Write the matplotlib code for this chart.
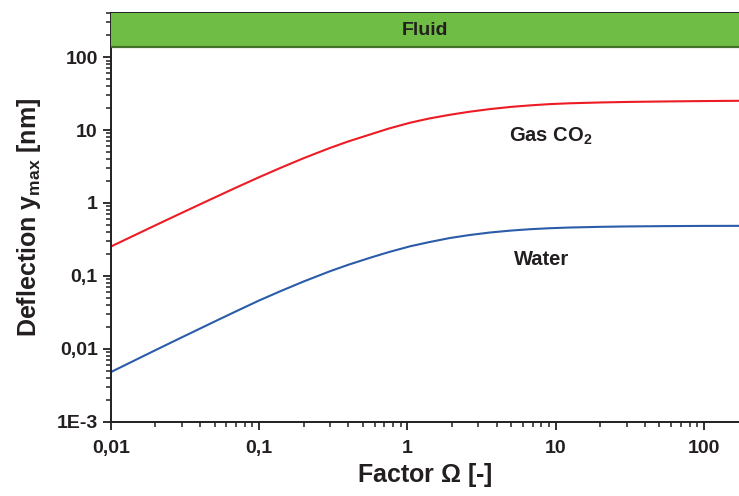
import matplotlib
matplotlib.use("Agg")
import matplotlib.pyplot as plt
from matplotlib.patches import Rectangle
from matplotlib.ticker import LogLocator, NullFormatter

# values (log-log)
omega = [0.01, 0.02, 0.03, 0.05, 0.07, 0.1, 0.14, 0.2, 0.3, 0.4, 0.56, 0.75, 1.04,
         1.4, 1.93, 2.6, 3.6, 5, 6.7, 9.1, 12.4, 19.8, 30, 56, 100, 172]
gas_co2 = [0.252, 0.494, 0.729, 1.185, 1.626, 2.257, 3.04, 4.12, 5.68, 6.99, 8.70, 10.5, 12.6,
           14.4, 16.2, 17.8, 19.4, 20.8, 21.8, 22.7, 23.3, 23.9, 24.3, 24.7, 25.0, 25.2]
water = [0.00478, 0.00956, 0.01428, 0.02356, 0.03266, 0.0459, 0.0619, 0.0838, 0.1155, 0.142, 0.177, 0.212, 0.254,
         0.290, 0.330, 0.362, 0.393, 0.418, 0.436, 0.450, 0.460, 0.470, 0.476, 0.481, 0.484, 0.485]

xticks = [0.01, 0.1, 1, 10, 100]
xticklabels = ["0,01", "0,1", "1", "10", "100"]
yticks = [0.001, 0.01, 0.1, 1, 10, 100]
yticklabels = ["1E-3", "0,01", "0,1", "1", "10", "100"]

plt.rcParams['font.family'] = ['Liberation Sans', 'DejaVu Sans']
plt.rcParams['font.weight'] = 'bold'
plt.rcParams['mathtext.fontset'] = 'custom'
plt.rcParams['mathtext.rm'] = 'Liberation Sans:bold'
plt.rcParams['mathtext.bf'] = 'Liberation Sans:bold'
plt.rcParams['mathtext.it'] = 'Liberation Sans:bold'

dark = '#231f20'

fig = plt.figure(figsize=(7.39, 4.96), dpi=100)
ax = fig.add_axes([0.150, 0.150, 0.850, 0.824])

ax.plot(omega, gas_co2, color='#ed1c24', lw=1.5)
ax.plot(omega, water, color='#2b5ca9', lw=1.5)

ax.set_xscale('log')
ax.set_yscale('log')
ax.set_xlim(0.01, 172)
ax.set_ylim(0.001, 405)

ax.set_xticks(xticks)
ax.set_xticklabels(xticklabels)
ax.set_yticks(yticks)
ax.set_yticklabels(yticklabels)
ax.xaxis.set_minor_locator(LogLocator(base=10, subs=range(2, 10), numticks=20))
ax.yaxis.set_minor_locator(LogLocator(base=10, subs=range(2, 10), numticks=20))
ax.xaxis.set_minor_formatter(NullFormatter())
ax.yaxis.set_minor_formatter(NullFormatter())

ax.tick_params(which='major', direction='out', length=6, width=1.3, color=dark,
               labelsize=14, labelcolor=dark)
ax.tick_params(which='minor', direction='out', length=3.5, width=1.1, color=dark)
ax.tick_params(axis='x', which='both', top=False)
ax.tick_params(axis='y', which='both', right=False)
ax.tick_params(axis='x', pad=7)

ax.spines['right'].set_visible(False)
for s in ['left', 'bottom', 'top']:
    ax.spines[s].set_color(dark)
    ax.spines[s].set_linewidth(1.4)

# green "Fluid" band on top
band = Rectangle((0, 0.916), 1, 0.084, transform=ax.transAxes,
                 facecolor='#6fbd45', edgecolor='none', zorder=3, clip_on=False)
ax.add_patch(band)
ax.plot([0, 1], [0.916, 0.916], transform=ax.transAxes, color='#43712a', lw=1.6, zorder=4)
ax.text(0.5, 0.957, "Fluid", transform=ax.transAxes, ha='center', va='center',
        fontsize=14, fontweight='bold', color=dark, zorder=5)

ax.text(9.3, 8.15, r"Gas CO$_2$", ha='center', va='center', fontsize=14.5,
        fontweight='bold', color=dark)
ax.text(8.05, 0.166, "Water", ha='center', va='center', fontsize=14.5,
        fontweight='bold', color=dark)

ax.set_xlabel(r"Factor $\Omega$ [-]", fontsize=18, fontweight='bold', color=dark, labelpad=3)
ax.set_ylabel(r"Deflection y$_{\mathbf{max}}$ [nm]", fontsize=18, fontweight='bold', color=dark, labelpad=10)

fig.savefig("out.png", dpi=100)
